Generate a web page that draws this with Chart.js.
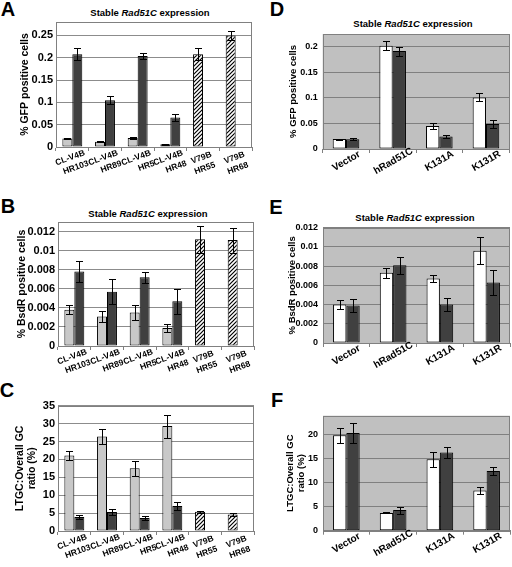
<!DOCTYPE html>
<html lang="en">
<head>
<meta charset="UTF-8" />
<title>Stable Rad51C expression</title>
<script src="https://cdn.jsdelivr.net/npm/chart.js"></script>
<style>
  body { margin: 0; background: #fff; font-family: "Liberation Sans", Arial, sans-serif; }
  .page { position: relative; width: 512px; height: 567px; overflow: hidden; }
  .page canvas { position: absolute; }
  .letter { position: absolute; font-weight: bold; font-size: 20px; line-height: 20px; transform: translate(-50%, -50%); }
  .title { position: absolute; font-weight: bold; font-size: 9.5px; line-height: 11px; white-space: nowrap; transform: translate(-50%, -50%); }
  .tick-anchor { position: absolute; width: 0; height: 0; }
  .tick-text { position: absolute; left: 0; top: 0; white-space: nowrap; text-align: right; font-weight: bold; color: #000; }
</style>
</head>
<body>
<div class="page">
  <div class="letter" style="left:8px; top:9px;">A</div>
  <div class="letter" style="left:8px; top:206px;">B</div>
  <div class="letter" style="left:7px; top:390px;">C</div>
  <div class="letter" style="left:277px; top:9px;">D</div>
  <div class="letter" style="left:276px; top:207px;">E</div>
  <div class="letter" style="left:277px; top:400px;">F</div>

  <div class="title" style="left:150px; top:12px;">Stable <i>Rad51C</i> expression</div>
  <div class="title" style="left:148px; top:213px;">Stable <i>Rad51C</i> expression</div>
  <div class="title" style="left:413px; top:23px;">Stable <i>Rad51C</i> expression</div>
  <div class="title" style="left:415px; top:217px;">Stable <i>Rad51C</i> expression</div>

  <canvas id="chartA" width="256" height="190" style="left:0; top:0;"></canvas>
  <canvas id="chartB" width="256" height="190" style="left:0; top:190px;"></canvas>
  <canvas id="chartC" width="256" height="187" style="left:0; top:380px;"></canvas>
  <canvas id="chartD" width="256" height="190" style="left:256px; top:0;"></canvas>
  <canvas id="chartE" width="256" height="190" style="left:256px; top:190px;"></canvas>
  <canvas id="chartF" width="256" height="187" style="left:256px; top:380px;"></canvas>
</div>

<script>
  // categories
  var cellLines = [['CL-V4B', 'HR103'], ['CL-V4B', 'HR89'], ['CL-V4B', 'HR5'], ['CL-V4B', 'HR48'], ['V79B', 'HR55'], ['V79B', 'HR68']];
  var constructs = ['Vector', 'hRad51C', 'K131A', 'K131R'];

  // A - % GFP positive cells
  var gfpParental = [0.019, 0.012, 0.020, 0.006];
  var gfpParentalErr = [0.001, 0.001, 0.002, 0.001];
  var gfpClone = [0.208, 0.105, 0.204, 0.066];
  var gfpCloneErr = [0.013, 0.009, 0.006, 0.007];
  var gfpV79 = [0.208, 0.250];
  var gfpV79Err = [0.013, 0.010];
  var gfpTicks = [0, 0.05, 0.1, 0.15, 0.2, 0.25];

  // B - % BsdR positive cells
  var bsdParental = [0.0038, 0.0031, 0.0035, 0.0019];
  var bsdParentalErr = [0.00045, 0.0006, 0.0008, 0.0004];
  var bsdClone = [0.0078, 0.0057, 0.0072, 0.0047];
  var bsdCloneErr = [0.0011, 0.0013, 0.0006, 0.0013];
  var bsdV79 = [0.0112, 0.0111];
  var bsdV79Err = [0.0014, 0.0013];
  var bsdTicks = [0, 0.002, 0.004, 0.006, 0.008, 0.01, 0.012];

  // C - LTGC:Overall GC ratio (%)
  var ltgcParental = [21.1, 26.4, 17.5, 29.3];
  var ltgcParentalErr = [1.3, 2.1, 2.1, 3.2];
  var ltgcClone = [3.9, 5.3, 3.6, 7.0];
  var ltgcCloneErr = [0.5, 0.9, 0.5, 1.2];
  var ltgcV79 = [5.4, 4.6];
  var ltgcV79Err = [0.3, 0.3];
  var ltgcTicks = [0, 5, 10, 15, 20, 25, 30, 35];

  // D - % GFP positive cells, Rad51C mutants
  var gfpMutA = [0.0195, 0.202, 0.045, 0.101];
  var gfpMutAErr = [0.001, 0.009, 0.006, 0.008];
  var gfpMutB = [0.019, 0.1915, 0.0245, 0.049];
  var gfpMutBErr = [0.002, 0.009, 0.002, 0.008];
  var gfpMutTicks = [0, 0.05, 0.1, 0.15, 0.2];

  // E - % BsdR positive cells, Rad51C mutants
  var bsdMutA = [0.0040, 0.0073, 0.0067, 0.0096];
  var bsdMutAErr = [0.0005, 0.0005, 0.0004, 0.0014];
  var bsdMutB = [0.0039, 0.0081, 0.0040, 0.0063];
  var bsdMutBErr = [0.0007, 0.0009, 0.0007, 0.0013];
  var bsdMutTicks = [0, 0.002, 0.004, 0.006, 0.008, 0.01, 0.012];

  // F - LTGC:Overall GC ratio (%), Rad51C mutants
  var ltgcMutA = [19.9, 3.7, 14.9, 8.4];
  var ltgcMutAErr = [1.5, 0.1, 1.6, 0.8];
  var ltgcMutB = [20.4, 4.3, 16.3, 12.45];
  var ltgcMutBErr = [2.1, 0.75, 1.2, 0.9];
  var ltgcMutTicks = [0, 5, 10, 15, 20];

  var FONT = "'Liberation Sans', Arial, sans-serif";
  var LIGHT = '#c8c8c8';
  var DARK = '#404040';

  function hatchPattern() {
    var c = document.createElement('canvas');
    c.width = 4;
    c.height = 4;
    var g = c.getContext('2d');
    g.fillStyle = '#fff';
    g.fillRect(0, 0, 4, 4);
    g.strokeStyle = '#000';
    g.lineWidth = 1.2;
    g.beginPath();
    g.moveTo(0, 4); g.lineTo(4, 0);
    g.moveTo(-1, 1); g.lineTo(1, -1);
    g.moveTo(3, 5); g.lineTo(5, 3);
    g.stroke();
    return g.createPattern(c, 'repeat');
  }
  var HATCH = hatchPattern();

  // plot area background + frame, like Excel
  var plotFrame = {
    id: 'plotFrame',
    beforeDraw: function (chart, args, opts) {
      var a = chart.chartArea, ctx = chart.ctx;
      ctx.save();
      ctx.fillStyle = opts.background;
      ctx.fillRect(a.left, a.top, a.right - a.left, a.bottom - a.top);
      ctx.restore();
    },
    beforeDatasetsDraw: function (chart, args, opts) {
      var a = chart.chartArea, ctx = chart.ctx;
      ctx.save();
      ctx.strokeStyle = opts.border;
      ctx.lineWidth = 1;
      ctx.strokeRect(Math.round(a.left) + 0.5, Math.round(a.top) + 0.5,
        Math.round(a.right - a.left) - 1, Math.round(a.bottom - a.top));
      ctx.restore();
    }
  };

  var errorBars = {
    id: 'errorBars',
    afterDatasetsDraw: function (chart) {
      var ctx = chart.ctx, y = chart.scales.y;
      chart.data.datasets.forEach(function (ds, i) {
        if (!ds.errors) return;
        chart.getDatasetMeta(i).data.forEach(function (bar, j) {
          var v = ds.data[j], e = ds.errors[j];
          if (v == null || e == null) return;
          var top = Math.round(y.getPixelForValue(v + e)) + 0.5;
          var bot = Math.round(y.getPixelForValue(v - e)) + 0.5;
          var x = Math.round(bar.x) + 0.5;
          ctx.save();
          ctx.strokeStyle = '#000';
          ctx.lineWidth = 1;
          ctx.beginPath();
          ctx.moveTo(x, top); ctx.lineTo(x, bot);
          ctx.moveTo(x - 3.5, top); ctx.lineTo(x + 3.5, top);
          ctx.moveTo(x - 3.5, bot); ctx.lineTo(x + 3.5, bot);
          ctx.stroke();
          ctx.restore();
        });
      });
    }
  };

  function fillList(n, color) {
    var list = [];
    for (var i = 0; i < n; i++) list.push(color);
    return list;
  }

  // slanted category labels as page text, hung under the x scale tick positions
  function addTickLabels(chart, canvas, p) {
    var xs = chart.scales.x;
    var page = document.querySelector('.page');
    chart.data.labels.forEach(function (label, i) {
      var anchor = document.createElement('div');
      anchor.className = 'tick-anchor';
      anchor.style.left = (canvas.offsetLeft + xs.getPixelForTick(i) + p.xDx) + 'px';
      anchor.style.top = (canvas.offsetTop + xs.top + p.xDy) + 'px';
      var text = document.createElement('div');
      text.className = 'tick-text';
      text.style.fontSize = p.xFont + 'px';
      text.style.lineHeight = p.xLine + 'px';
      text.style.transform = 'translate(-50%, 0) rotate(' + (-p.rotation) + 'deg)';
      text.innerHTML = [].concat(label).join('<br>');
      anchor.appendChild(text);
      page.appendChild(anchor);
    });
  }

  function makePanel(id, p) {
    var canvas = document.getElementById(id);
    var chart = new Chart(canvas.getContext('2d'), {
      type: 'bar',
      data: { labels: p.labels, datasets: p.datasets },
      plugins: [plotFrame, errorBars],
      options: {
        responsive: false,
        animation: false,
        events: [],
        layout: { padding: { top: p.padTop, right: p.padRight, left: 0, bottom: 0 } },
        datasets: {
          bar: {
            categoryPercentage: p.catPct,
            barPercentage: 1,
            borderColor: '#000',
            borderWidth: 1,
            borderSkipped: false
          }
        },
        plugins: {
          legend: { display: false },
          tooltip: { enabled: false },
          plotFrame: { background: p.background, border: '#808080' }
        },
        scales: {
          x: {
            grid: { display: true, drawOnChartArea: false, drawTicks: true, tickLength: 4, color: '#808080', offset: true },
            border: { color: '#808080' },
            ticks: { display: false },
            afterFit: function (s) { s.height = p.xHeight; }
          },
          y: {
            min: 0,
            max: p.max,
            afterBuildTicks: function (s) {
              s.ticks = p.ticks.map(function (v) { return { value: v }; });
            },
            grid: { color: p.gridColor, drawTicks: false },
            border: { display: false },
            ticks: {
              color: '#000',
              padding: p.yPad,
              font: { family: FONT, size: p.yFont, weight: 'bold' },
              callback: function (v) { return String(+v.toFixed(4)); }
            },
            title: {
              display: true,
              text: p.yTitle,
              color: '#000',
              font: { family: FONT, size: p.titleFont, weight: 'bold', lineHeight: 1.2 },
              padding: { top: p.titlePad, bottom: 0 }
            },
            afterFit: function (s) { s.width = p.yWidth; }
          }
        }
      }
    });
    addTickLabels(chart, canvas, p);
    return chart;
  }

  function cellLineSets(parental, parentalErr, clone, cloneErr, v79, v79Err) {
    return [
      {
        data: parental.concat(v79),
        errors: parentalErr.concat(v79Err),
        backgroundColor: fillList(parental.length, LIGHT).concat(fillList(v79.length, HATCH))
      },
      { data: clone, errors: cloneErr, backgroundColor: DARK }
    ];
  }

  function constructSets(a, aErr, b, bErr) {
    return [
      { data: a, errors: aErr, backgroundColor: '#ffffff' },
      { data: b, errors: bErr, backgroundColor: DARK }
    ];
  }

  var left = {
    background: '#ffffff', gridColor: '#8c8c8c', catPct: 0.61,
    xFont: 8.5, rotation: 20, xLine: 11, xDx: 0, xDy: 5,
    yFont: 11, yPad: 3, titleFont: 10.5
  };
  var right = {
    background: '#c0c0c0', gridColor: '#808080', catPct: 0.57,
    xFont: 10, rotation: 30, xLine: 11, xDx: 0, xDy: 6,
    yFont: 9, yPad: 5, titleFont: 9.5
  };

  function panel(base, extra) {
    return Object.assign({}, base, extra);
  }

  makePanel('chartA', panel(left, {
    labels: cellLines,
    datasets: cellLineSets(gfpParental, gfpParentalErr, gfpClone, gfpCloneErr, gfpV79, gfpV79Err),
    max: 0.28, ticks: gfpTicks, yTitle: '% GFP positive cells',
    padTop: 22, padRight: 4, yWidth: 56, xHeight: 43, titlePad: 18.7
  }));

  makePanel('chartB', panel(left, {
    labels: cellLines,
    datasets: cellLineSets(bsdParental, bsdParentalErr, bsdClone, bsdCloneErr, bsdV79, bsdV79Err),
    max: 0.013, ticks: bsdTicks, yTitle: '% BsdR positive cells',
    padTop: 32, padRight: 2, yWidth: 58, xHeight: 34, titlePad: 15.7
  }));

  makePanel('chartC', panel(left, {
    labels: cellLines,
    datasets: cellLineSets(ltgcParental, ltgcParentalErr, ltgcClone, ltgcCloneErr, ltgcV79, ltgcV79Err),
    max: 35, ticks: ltgcTicks, yTitle: ['LTGC:Overall GC', 'ratio (%)'],
    padTop: 25.7, padRight: 2, yWidth: 58, xHeight: 36, titlePad: 13.7
  }));

  makePanel('chartD', panel(right, {
    labels: constructs,
    datasets: constructSets(gfpMutA, gfpMutAErr, gfpMutB, gfpMutBErr),
    max: 0.225, ticks: gfpMutTicks, yTitle: '% GFP positive cells',
    padTop: 34, padRight: 2.7, yWidth: 66.7, xHeight: 41, titlePad: 31.3
  }));

  makePanel('chartE', panel(right, {
    labels: constructs,
    datasets: constructSets(bsdMutA, bsdMutAErr, bsdMutB, bsdMutBErr),
    max: 0.012, ticks: bsdMutTicks, yTitle: '% BsdR positive cells',
    padTop: 37.7, padRight: 2, yWidth: 67, xHeight: 37, titlePad: 30.3
  }));

  makePanel('chartF', panel(right, {
    labels: constructs,
    datasets: constructSets(ltgcMutA, ltgcMutAErr, ltgcMutB, ltgcMutBErr),
    max: 24, ticks: ltgcMutTicks, yTitle: ['LTGC:Overall GC', 'ratio (%)'],
    padTop: 35.7, padRight: 2, yWidth: 67, xHeight: 36.3, titlePad: 28.3
  }));
</script>
</body>
</html>
